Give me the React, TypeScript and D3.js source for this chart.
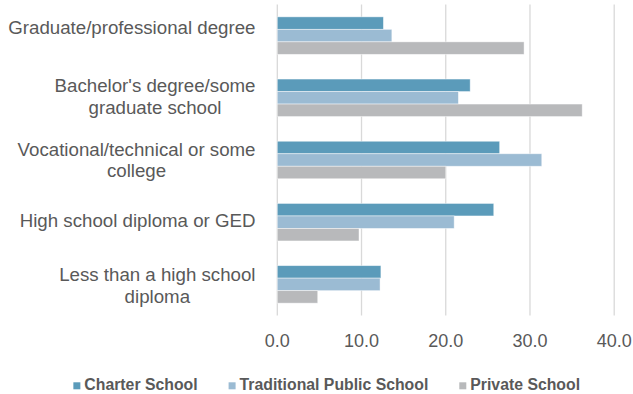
import React from "react";
import * as d3 from "d3";

const categories = [
  "Graduate/professional degree",
  "Bachelor's degree/some\ngraduate school",
  "Vocational/technical or some\ncollege",
  "High school diploma or GED",
  "Less than a high school\ndiploma",
];
const seriesNames = ["Charter School", "Traditional Public School", "Private School"];
const charter = [12.6, 22.9, 26.4, 25.7, 12.3];
const traditional = [13.6, 21.5, 31.4, 21.0, 12.2];
const privateSchool = [29.3, 36.2, 20.0, 9.7, 4.8];
const xTicks = [0, 10, 20, 30, 40];

const colors = ["#5B9BBA", "#9BBBD3", "#B8B9BB"];
const W = 633;
const H = 394;
const FONT = "'Liberation Sans', Arial, Helvetica, sans-serif";
const labelOffsets = [-8, -1.5, 0, -1.5, 1];

let ctx: CanvasRenderingContext2D | null = null;
function measure(text: string, font: string) {
  if (!ctx) ctx = document.createElement("canvas").getContext("2d");
  if (!ctx) return text.length * 8;
  ctx.font = font;
  return ctx.measureText(text).width;
}

export default function App() {
  const series = [charter, traditional, privateSchool];
  const x = d3.scaleLinear().domain([0, 40]).range([277.3, 614.2]);
  const y = d3
    .scaleBand<number>()
    .domain(d3.range(categories.length))
    .range([4.5, 315.5])
    .paddingInner(0.397)
    .paddingOuter(0.1985);
  const y1 = d3.scaleBand<number>().domain([0, 1, 2]).range([0, y.bandwidth()]);

  const catSize = 18.7;
  const catFont = `${catSize}px ${FONT}`;
  const lineH = 21.5;
  const labelRight = 255.5;

  const legSize = 15.8;
  const legFont = `bold ${legSize}px ${FONT}`;
  const legW = seriesNames.map((s) => 11 + measure(s, legFont));
  const gap = 31;
  const totalLeg = d3.sum(legW) + gap * (legW.length - 1);
  let lx = 326.7 - totalLeg / 2;
  const legX = legW.map((w) => {
    const v = lx;
    lx += w + gap;
    return v;
  });

  return (
    <svg width={W} height={H} style={{ position: "absolute", left: 0, top: 0 }}>
      <rect width={W} height={H} fill="#fff" />
      {xTicks.map((t) => (
        <line key={t} x1={x(t)} x2={x(t)} y1={4.5} y2={315.5} stroke="#D9D9D9" strokeWidth={1.3} />
      ))}
      {categories.map((c, i) => (
        <g key={c} transform={`translate(0,${y(i)})`}>
          {series.map((s, j) => (
            <rect
              key={j}
              x={x(0)}
              y={y1(j)}
              width={x(s[i]) - x(0)}
              height={y1.bandwidth()}
              fill={colors[j]}
              stroke="#ffffff"
              strokeOpacity={0.55}
              strokeWidth={0.8}
            />
          ))}
        </g>
      ))}
      {categories.map((c, i) => {
        const lines = c.split("\n");
        const maxW = Math.max(...lines.map((l) => measure(l, catFont)));
        const cx = labelRight - maxW / 2;
        const center = (y(i) as number) + y.bandwidth() / 2 + labelOffsets[i];
        const first = center - ((lines.length - 1) * lineH) / 2 + catSize * 0.358;
        return (
          <text key={c} fontFamily={FONT} fontSize={catSize} fill="#595959" textAnchor="middle">
            {lines.map((l, k) => (
              <tspan key={k} x={cx} y={first + k * lineH}>
                {l}
              </tspan>
            ))}
          </text>
        );
      })}
      {xTicks.map((t) => (
        <text key={t} x={x(t)} y={346.5} textAnchor="middle" fontFamily={FONT} fontSize={18} fill="#595959">
          {d3.format(".1f")(t)}
        </text>
      ))}
      {seriesNames.map((s, i) => (
        <g key={s}>
          <rect x={legX[i]} y={382.3} width={7} height={7} fill={colors[i]} />
          <text x={legX[i] + 11} y={390.3} fontFamily={FONT} fontSize={legSize} fontWeight="bold" fill="#595959">
            {s}
          </text>
        </g>
      ))}
    </svg>
  );
}
